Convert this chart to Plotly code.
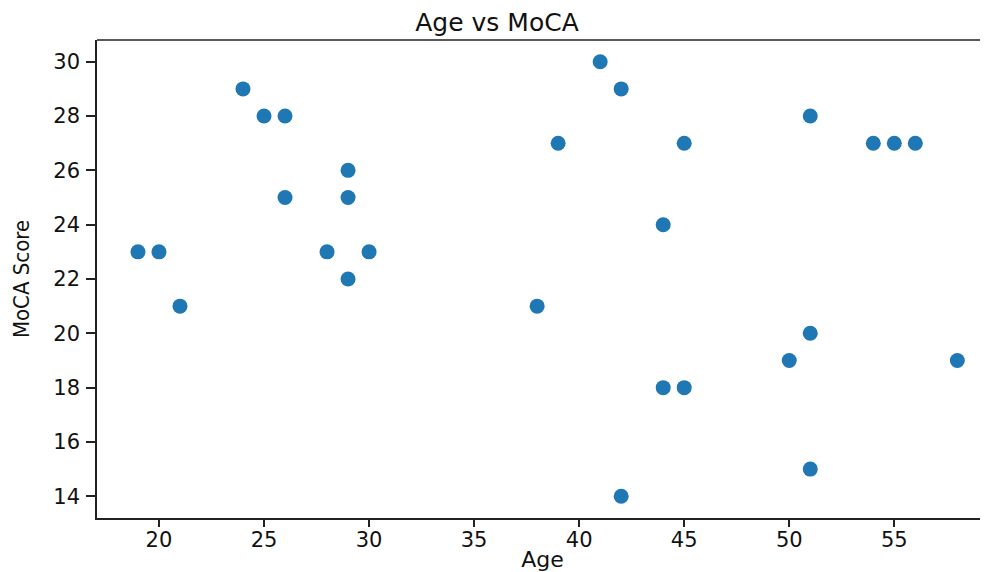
import plotly.graph_objects as go

age = [19, 20, 21, 24, 25, 26, 26, 28, 29, 29, 29, 30, 38, 39, 41, 42, 42,
       44, 44, 45, 45, 50, 51, 51, 51, 54, 55, 56, 58]
moca = [23, 23, 21, 29, 28, 28, 25, 23, 26, 25, 22, 23, 21, 27, 30, 29, 14,
        24, 18, 27, 18, 19, 28, 20, 15, 27, 27, 27, 19]
x_ticks = [20, 25, 30, 35, 40, 45, 50, 55]
y_ticks = [14, 16, 18, 20, 22, 24, 26, 28, 30]

fig = go.Figure(go.Scatter(
    x=age, y=moca, mode="markers",
    marker=dict(color="#1f77b4", size=15, line=dict(width=0)),
    cliponaxis=False,
))

font = dict(family="DejaVu Sans", color="#111111")
# page body has an 8px margin, so the figure is 8px smaller than the window
fig.update_layout(
    width=980, height=564,
    margin=dict(l=89, r=0, t=32, b=54, autoexpand=False),
    plot_bgcolor="white", paper_bgcolor="white",
    showlegend=False,
    title=dict(text="Age vs MoCA", x=0.499, xanchor="center", y=0.975, yanchor="middle",
               font=dict(family="DejaVu Sans", size=25, color="#111111")),
    xaxis=dict(range=[17.05, 59.46], tickvals=x_ticks, showgrid=False, zeroline=False,
               showline=True, linecolor="#222222", linewidth=1.5,
               ticks="outside", ticklen=7, tickwidth=1.5, tickcolor="#222222",
               ticklabelstandoff=-5,
               tickfont=dict(size=21, **font),
               title=dict(text="Age", font=dict(size=22, **font), standoff=6)),
    yaxis=dict(range=[13.2, 30.8], tickvals=y_ticks, showgrid=False, zeroline=False,
               showline=True, linecolor="#222222", linewidth=1.5,
               ticks="outside", ticklen=9, tickwidth=1.5, tickcolor="#222222",
               ticklabelstandoff=2,
               tickfont=dict(size=21, **font),
               title=dict(text="MoCA Score", font=dict(size=22, family="DejaVu Sans Condensed", color="#111111"), standoff=18)),
)
fig.add_shape(type="line", xref="paper", yref="paper", x0=0, x1=1, y0=1, y1=1,
              line=dict(color="#222222", width=1.5))

fig.write_html("out.html")
